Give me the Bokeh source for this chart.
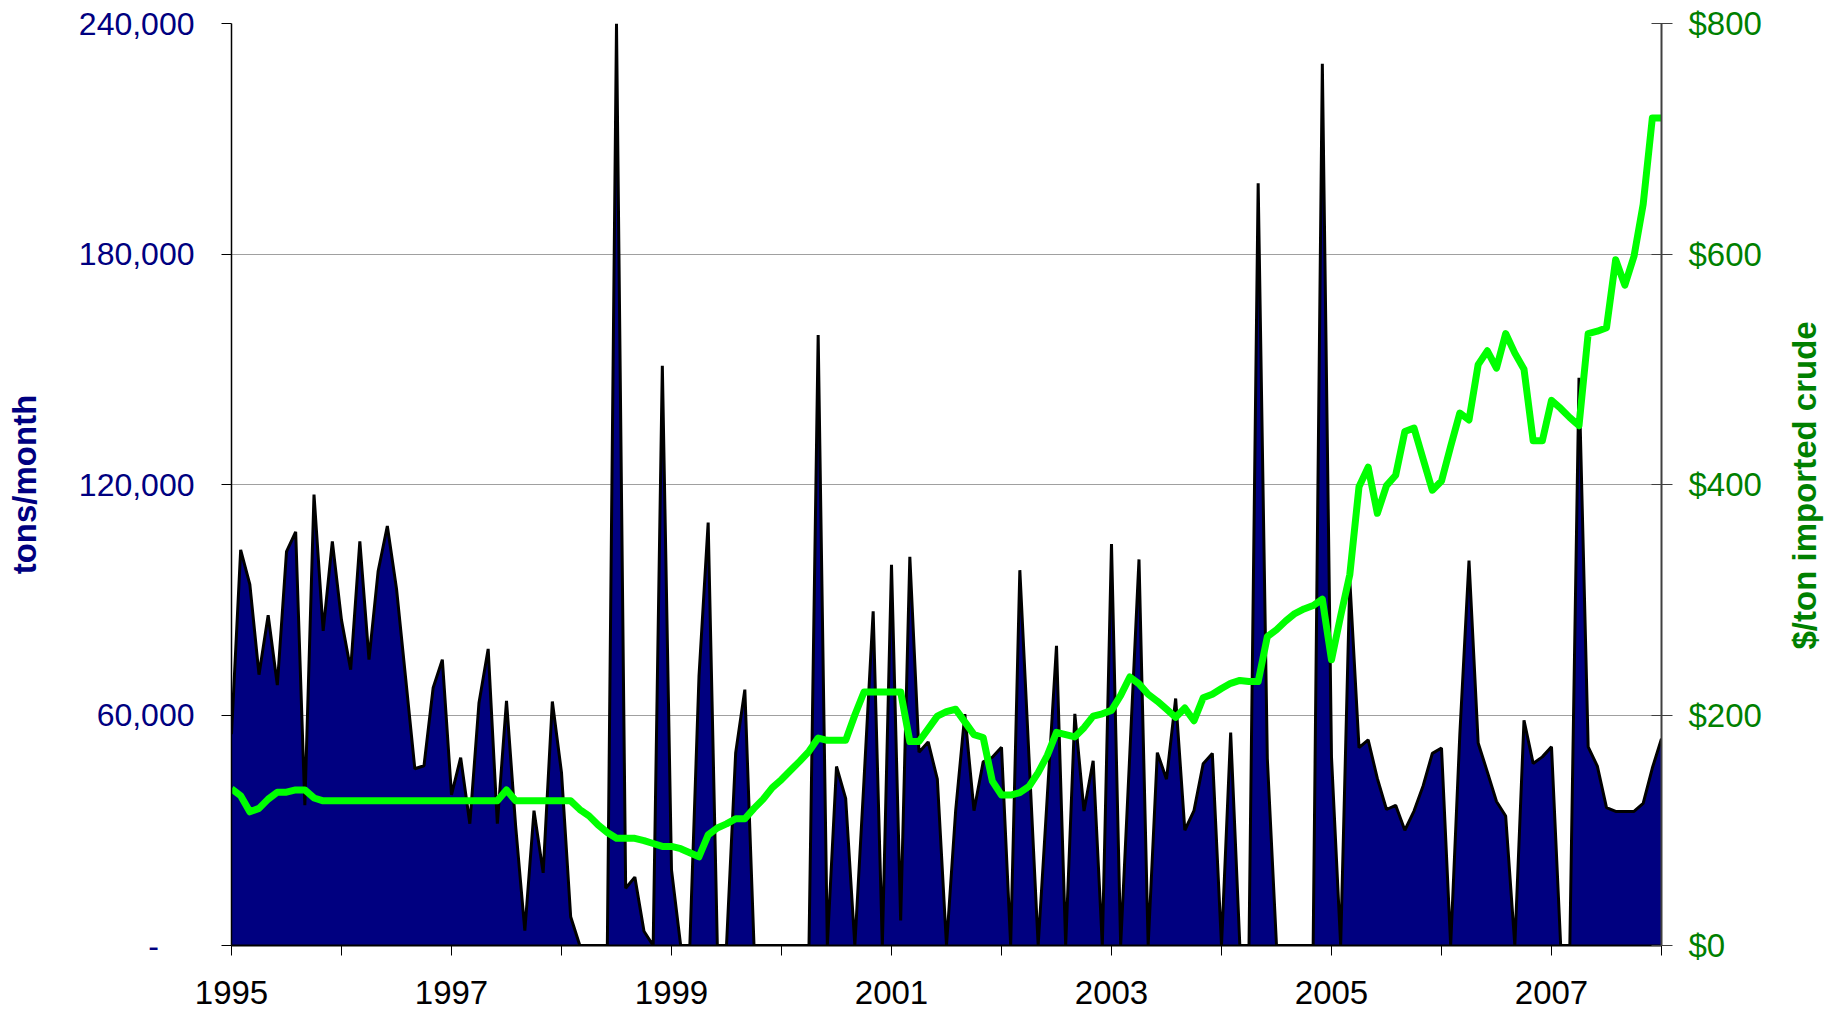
from bokeh.plotting import figure
from bokeh.layouts import row
from bokeh.models import Range1d, LinearAxis, FixedTicker, Label
from bokeh.embed import file_html
from bokeh.resources import INLINE

start_year = 1995

# monthly imports, tons/month (Jan 1995 .. Jan 2008)
tons = [
    55000, 103000, 94000, 70500, 86000, 67800, 102500, 107700, 36500, 117400, 81900, 105200,
    84700, 71800, 105200, 74400, 97500, 109200, 92900, 69500, 46000, 46800, 67100, 74400,
    39200, 48900, 31700, 63200, 77200, 31700, 63700, 31000, 3900, 35100, 18900, 63500,
    45000, 7500, 0, 0, 0, 0, 240000, 14900, 17800, 3700, 0, 150900,
    19700, 0, 0, 70100, 110100, 0, 0, 50100, 66600, 0, 0, 0,
    0, 0, 0, 0, 158900, 0, 46600, 38300, 0, 43000, 87000, 0,
    99100, 6500, 101200, 50300, 53000, 43300, 0, 35100, 60200, 35100, 47800, 49000,
    51600, 0, 97700, 49000, 0, 39000, 78000, 0, 60300, 35000, 48100, 0,
    104500, 0, 50000, 100500, 0, 50200, 43300, 64300, 30000, 35100, 47300, 50000,
    0, 55400, 0, 0, 198400, 48600, 0, 0, 0, 0, 0, 229500,
    49000, 0, 95000, 51500, 53500, 43500, 35400, 36500, 30000, 35000, 41600, 50000,
    51400, 0, 55000, 100200, 52700, 45200, 37500, 33700, 0, 58600, 47400, 49100,
    51700, 0, 0, 147800, 51700, 46700, 35900, 34900, 34900, 34900, 37000, 46200,
    53800,
]

# $/ton imported crude
price = [
    136, 130, 116, 119, 127, 133, 133, 135, 135, 128, 125.5, 125.5,
    125.5, 125.5, 125.5, 125.5, 125.5, 125.5, 125.5, 125.5, 125.5, 125.5, 125.5, 125.5,
    125.5, 125.5, 125.5, 125.5, 125.5, 125.5, 135, 125.5, 125.5, 125.5, 125.5, 125.5,
    125.5, 125.5, 118, 112.5, 104.5, 98, 93, 93, 93, 91, 88.5, 86,
    86, 84, 80.5, 77, 96, 102, 105.5, 110, 110, 119, 127, 137,
    144, 152, 160, 168.5, 180, 178, 178, 178, 200, 220, 220, 220,
    220, 220, 177, 177, 188, 199, 203, 205, 194, 183, 180.5, 142.6,
    130.5, 130.5, 132.7, 138, 150, 165, 185, 183, 181, 189, 199, 201,
    204, 217, 233, 227, 218, 212, 205, 198, 206, 195, 215, 218,
    223, 227.5, 230, 229, 229, 268, 274, 281.5, 288, 292, 295, 300.5,
    248, 286, 322, 398, 415, 375, 399, 408, 446, 449, 422, 395,
    403, 433, 462, 456, 504, 516, 501, 531, 514, 500, 438, 438,
    473, 466, 458, 451, 531, 533, 536, 595, 573, 598, 643, 718,
    718,
]

year_ticks = list(range(1995, 2009))
year_labels = ["1995", "", "1997", "", "1999", "", "2001", "", "2003", "", "2005", "", "2007", ""]
tons_ticks = [0, 60000, 120000, 180000, 240000]
tons_labels = ["-\u00a0\u00a0\u00a0\u00a0", "60,000", "120,000", "180,000", "240,000"]
price_ticks = [0, 200, 400, 600, 800]
price_labels = ["$0", "$200", "$400", "$600", "$800"]

x = [start_year + i / 12 for i in range(len(tons))]

NAVY = "#000080"
GREEN_TXT = "#008000"
GREEN_LINE = "#00FF00"
FONT = "Liberation Sans"
H = 1010

p = figure(width=1780, height=H,
           x_range=Range1d(1995, 2008), y_range=Range1d(0, 240000),
           output_backend="svg", toolbar_location=None,
           min_border_left=231, min_border_right=119,
           min_border_top=23, min_border_bottom=65)
p.extra_y_ranges = {"price": Range1d(0, 800)}
p.outline_line_color = None
p.background_fill_color = "white"

p.varea(x=x, y1=0, y2=tons, fill_color=NAVY)
p.line(x, tons, line_color="black", line_width=3)
p.line(x, price, y_range_name="price", line_color=GREEN_LINE, line_width=7, line_join="round")

# grid
p.xgrid.visible = False
p.ygrid.ticker = FixedTicker(ticks=tons_ticks)
p.ygrid.grid_line_color = "#a0a0a0"
p.ygrid.grid_line_width = 1

# x axis
xa = p.xaxis[0]
xa.ticker = FixedTicker(ticks=year_ticks)
xa.major_label_overrides = {t: l for t, l in zip(year_ticks, year_labels)}
xa.major_label_text_font = FONT
xa.major_label_text_font_size = "33px"
xa.major_label_text_color = "black"
xa.major_label_standoff = 25
xa.axis_line_color = "black"
xa.axis_line_width = 2
xa.major_tick_line_color = "black"
xa.major_tick_line_width = 1
xa.major_tick_out = 10
xa.major_tick_in = 0
xa.minor_tick_line_color = None

# left axis
ya = p.yaxis[0]
ya.ticker = FixedTicker(ticks=tons_ticks)
ya.major_label_overrides = {t: l for t, l in zip(tons_ticks, tons_labels)}
ya.major_label_text_font = FONT
ya.major_label_text_font_size = "32px"
ya.major_label_text_color = NAVY
ya.major_label_standoff = 27
ya.axis_line_color = "black"
ya.axis_line_width = 1.5
ya.major_tick_line_color = "black"
ya.major_tick_out = 10
ya.major_tick_in = 0
ya.minor_tick_line_color = None
ya.axis_label = "tons/month"
ya.axis_label_text_font = FONT
ya.axis_label_text_font_style = "bold"
ya.axis_label_text_font_size = "33px"
ya.axis_label_text_color = NAVY
ya.axis_label_standoff = 33

# right axis (ticks and $ labels)
ra = LinearAxis(y_range_name="price", ticker=FixedTicker(ticks=price_ticks))
ra.major_label_overrides = {t: l for t, l in zip(price_ticks, price_labels)}
ra.major_label_text_font = FONT
ra.major_label_text_font_size = "33px"
ra.major_label_text_color = GREEN_TXT
ra.major_label_standoff = 16
ra.axis_line_color = "#404040"
ra.axis_line_width = 2
ra.major_tick_line_color = "#404040"
ra.major_tick_out = 11
ra.major_tick_in = 10
ra.minor_tick_line_color = None
p.add_layout(ra, "right")

# narrow side panel carrying the right-axis title, reading bottom-to-top
side = figure(width=55, height=H, x_range=Range1d(0, 55), y_range=Range1d(0, H),
              output_backend="svg", toolbar_location=None,
              x_axis_location=None, y_axis_location=None, min_border=0)
side.outline_line_color = None
side.grid.visible = False
side.add_layout(Label(x=24, y=H - 506, text="$/ton imported crude",
                      angle=90, angle_units="deg",
                      text_align="center", text_baseline="middle",
                      text_font=FONT, text_font_style="bold",
                      text_font_size="33px", text_color=GREEN_TXT))

layout = row(p, side)
open("out.html", "w").write(file_html(layout, INLINE))
